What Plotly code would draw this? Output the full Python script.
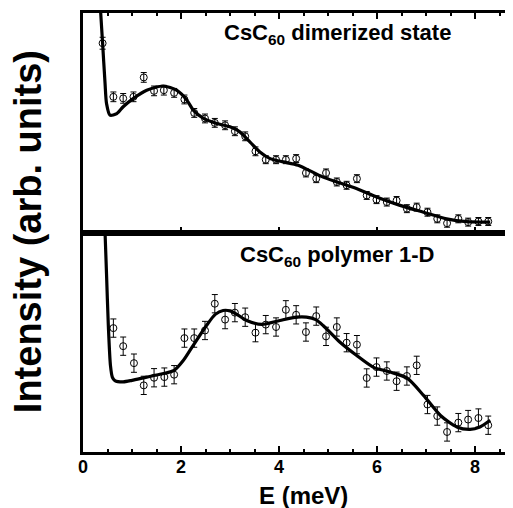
import plotly.graph_objects as go

# ---------------- data ----------------
top_x = [0.40, 0.62, 0.82, 1.03, 1.24, 1.45, 1.65, 1.86, 2.07, 2.27, 2.49, 2.69, 2.90,
         3.10, 3.31, 3.52, 3.73, 3.94, 4.14, 4.35, 4.55, 4.76, 4.96, 5.18, 5.38, 5.59,
         5.79, 5.99, 6.20, 6.40, 6.61, 6.81, 7.03, 7.23, 7.43, 7.66, 7.86, 8.07, 8.27]
top_y = [8.58, 6.15, 6.08, 6.15, 7.03, 6.42, 6.45, 6.33, 6.03, 5.42, 5.17, 4.97, 4.86,
         4.59, 4.36, 3.68, 3.30, 3.30, 3.30, 3.35, 2.70, 2.44, 2.70, 2.29, 2.14, 2.44,
         1.68, 1.49, 1.38, 1.45, 1.08, 1.15, 0.92, 0.62, 0.42, 0.62, 0.47, 0.50, 0.50]
top_err = [0.27, 0.22, 0.22, 0.22, 0.22, 0.22, 0.22, 0.2, 0.2, 0.2, 0.2, 0.2, 0.2,
           0.2, 0.2, 0.2, 0.18, 0.18, 0.18, 0.18, 0.18, 0.18, 0.18, 0.18, 0.18, 0.18,
           0.18, 0.18, 0.18, 0.18, 0.18, 0.18, 0.18, 0.18, 0.18, 0.18, 0.18, 0.18, 0.18]

top_fit_x = [0.33, 0.36, 0.40, 0.45, 0.48, 0.55, 0.69, 0.82, 1.03, 1.30, 1.64, 1.91,
             2.12, 2.25, 2.46, 2.73, 3.00, 3.20, 3.41, 3.61, 3.82, 4.09, 4.39, 4.90,
             5.58, 5.99, 6.47, 6.95, 7.42, 7.83, 8.31]
top_fit_y = [11.2, 10.0, 8.58, 6.76, 5.85, 5.32, 5.39, 5.70, 6.08, 6.45, 6.64, 6.45,
             6.00, 5.55, 5.17, 4.94, 4.79, 4.56, 4.10, 3.65, 3.35, 3.20, 3.05, 2.51,
             1.99, 1.61, 1.23, 0.92, 0.62, 0.49, 0.47]

bot_x = [0.62, 0.82, 1.04, 1.24, 1.45, 1.66, 1.86, 2.07, 2.27, 2.49, 2.69, 2.90,
         3.10, 3.31, 3.52, 3.73, 3.94, 4.14, 4.35, 4.55, 4.76, 4.96, 5.18, 5.38, 5.59,
         5.79, 5.99, 6.20, 6.40, 6.61, 6.81, 7.03, 7.23, 7.43, 7.66, 7.86, 8.07, 8.27]
bot_y = [5.61, 4.78, 4.00, 2.98, 3.33, 3.36, 3.47, 5.15, 5.15, 5.50, 6.73, 6.00,
         6.32, 6.11, 5.40, 5.77, 5.66, 6.45, 6.22, 5.43, 6.16, 5.23, 5.66, 4.94, 4.85,
         3.32, 3.82, 3.64, 3.17, 3.41, 3.90, 2.10, 1.57, 0.84, 1.27, 1.41, 1.48, 1.15]
bot_err = [0.42] * len(bot_x)

bot_fit_x = [0.44, 0.45, 0.48, 0.517, 0.56, 0.60, 0.65, 0.82, 1.00, 1.30, 1.60, 1.86,
             2.05, 2.25, 2.52, 2.70, 2.86, 3.00, 3.14, 3.34, 3.65, 4.02, 4.36, 4.56,
             4.75, 4.90, 5.24, 5.58, 5.92, 6.27, 6.61, 6.95, 7.29, 7.63, 7.90, 8.10, 8.31]
bot_fit_y = [10.6, 10.0, 8.1, 5.73, 3.90, 3.35, 3.20, 3.14, 3.21, 3.36, 3.50, 3.67,
             4.13, 4.82, 5.73, 6.24, 6.42, 6.40, 6.24, 5.96, 5.78, 5.96, 6.11, 6.11,
             6.00, 5.73, 4.97, 4.36, 3.82, 3.59, 3.32, 2.52, 1.61, 1.07, 0.96, 1.07, 1.38]

x_ticks = [0, 2, 4, 6, 8]
top_label = "CsC<sub>60</sub> dimerized state"
bot_label = "CsC<sub>60</sub> polymer 1-D"
x_title = "E (meV)"
y_title = "Intensity (arb. units)"

# ---------------- figure ----------------
# the page body has an 8px margin, so the figure is drawn 8px right/down
OFF = 8
WIN_W, WIN_H = 513, 508
W, H = WIN_W - OFF, WIN_H - OFF
PLOT_L, PLOT_T, PLOT_B = 83, 13, 451.7      # window pixels
ML = PLOT_L - OFF
MT = PLOT_T - OFF
MB = WIN_H - PLOT_B
PW = W - ML
PH = H - MT - MB


def px(p):
    return (p - PLOT_L) / PW


def py(p):
    return (PLOT_B - p) / PH


FONT = "Liberation Sans, Arial, Helvetica, sans-serif"

fig = go.Figure()

marker = dict(symbol="circle-open", size=7, color="black", line=dict(width=1, color="black"))
errstyle = dict(type="data", visible=True, color="black", thickness=1, width=3)

fig.add_trace(go.Scatter(x=top_x, y=top_y, mode="markers", marker=marker,
                         error_y=dict(array=top_err, **errstyle),
                         xaxis="x2", yaxis="y2", showlegend=False, cliponaxis=True))
fig.add_trace(go.Scatter(x=top_fit_x, y=top_fit_y, mode="lines",
                         line=dict(color="black", width=3.2, shape="spline", smoothing=0.7),
                         xaxis="x2", yaxis="y2", showlegend=False))
fig.add_trace(go.Scatter(x=bot_x, y=bot_y, mode="markers", marker=marker,
                         error_y=dict(array=bot_err, **errstyle),
                         xaxis="x", yaxis="y", showlegend=False, cliponaxis=True))
fig.add_trace(go.Scatter(x=bot_fit_x, y=bot_fit_y, mode="lines",
                         line=dict(color="black", width=3.2, shape="spline", smoothing=0.7),
                         xaxis="x", yaxis="y", showlegend=False))

xr = [0, PW / 49.0]
minor = dict(dtick=0.5, ticklen=3, tickwidth=1.5, tickcolor="black", ticks="inside", showgrid=False)

fig.update_layout(
    width=W, height=H,
    margin=dict(l=ML, r=0, t=MT, b=MB, pad=0),
    paper_bgcolor="white", plot_bgcolor="white",
    font=dict(family=FONT, color="black"),
    xaxis=dict(domain=[0, 1], anchor="y", range=xr, tickvals=x_ticks,
               ticks="inside", ticklen=6, tickwidth=2, tickcolor="black",
               showline=True, linewidth=3, linecolor="black", mirror=True,
               showgrid=False, zeroline=False, minor=minor,
               tickfont=dict(family=FONT, size=18, weight="bold"),
               ticklabelstandoff=-4),
    xaxis2=dict(domain=[0, 1], anchor="y2", range=xr, tickvals=x_ticks, matches="x",
                ticks="inside", ticklen=6, tickwidth=2, tickcolor="black",
                showline=True, linewidth=3, linecolor="black", mirror="ticks",
                showgrid=False, zeroline=False, minor=minor, showticklabels=False),
    yaxis=dict(domain=[0, 0.5], anchor="x", range=[-0.08, 10.0],
               showline=True, linewidth=3, linecolor="black", mirror=False,
               showticklabels=False, ticks="", showgrid=False, zeroline=False),
    yaxis2=dict(domain=[0.5, 1], anchor="x2", range=[0, 9.95],
                showline=True, linewidth=3, linecolor="black", mirror=False,
                showticklabels=False, ticks="", showgrid=False, zeroline=False),
    annotations=[
        dict(text=top_label, xref="paper", yref="paper", x=px(337), y=py(34),
             xanchor="center", yanchor="middle", showarrow=False,
             font=dict(family=FONT, size=22, weight="bold", color="black")),
        dict(text=bot_label, xref="paper", yref="paper", x=px(337), y=py(256),
             xanchor="center", yanchor="middle", showarrow=False,
             font=dict(family=FONT, size=22, weight="bold", color="black")),
        dict(text=x_title, xref="paper", yref="paper", x=px(303), y=py(495),
             xanchor="center", yanchor="middle", showarrow=False,
             font=dict(family=FONT, size=24, weight="bold", color="black")),
        dict(text=y_title, xref="paper", yref="paper", x=px(28), y=py(232),
             xanchor="center", yanchor="middle", showarrow=False, textangle=-90,
             font=dict(family=FONT, size=38, weight="bold", color="black")),
    ],
)

fig.write_html("out.html")
